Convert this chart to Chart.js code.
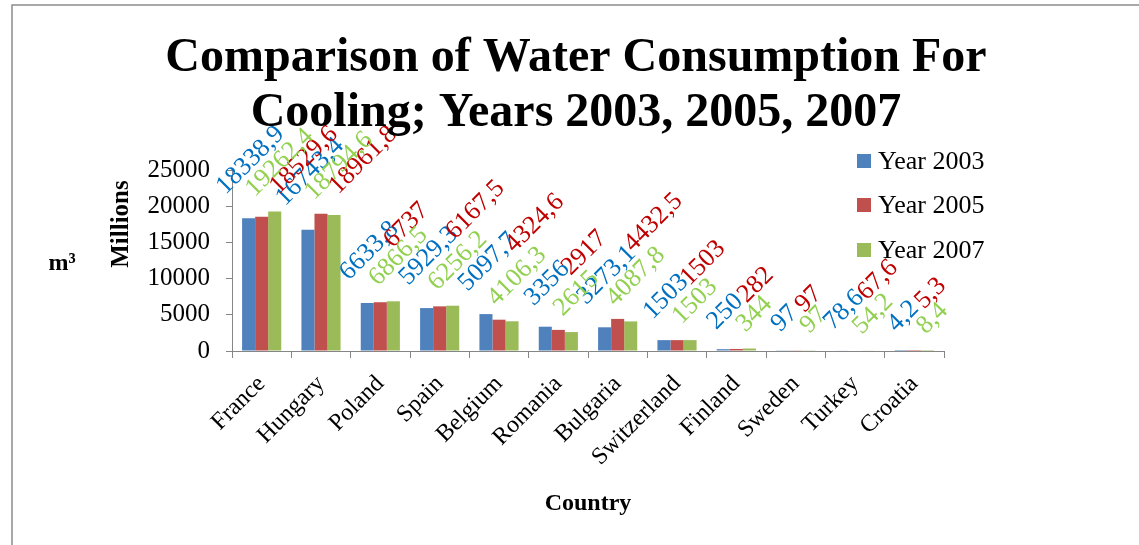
<!DOCTYPE html>
<html><head><meta charset="utf-8">
<script src="https://cdn.jsdelivr.net/npm/chart.js@4"></script>
<style>html,body{margin:0;padding:0;background:#fff;}</style>
</head><body>
<canvas id="c" width="1139" height="545"></canvas>
<script>
const categories = ['France','Hungary','Poland','Spain','Belgium','Romania','Bulgaria','Switzerland','Finland','Sweden','Turkey','Croatia'];
const year2003 = [18338.9,16743.4,6633.8,5929.3,5097.7,3356,3273.1,1503,250,97,78.6,4.2];
const year2005 = [18529.6,18961.8,6737,6167.5,4324.6,2917,4432.5,1503,282,97,67.6,5.3];
const year2007 = [19262.4,18794.6,6866.5,6256.2,4106.3,2615,4087.8,1503,344,97,54.2,8.4];
const yTicks = [0,5000,10000,15000,20000,25000];
const seriesNames = ['Year 2003','Year 2005','Year 2007'];
const barColors = ['#4F81BD','#C0504D','#9BBB59'];
const labelColors = ['#0070C0','#C00000','#92D050'];
const titleLines = ['Comparison of Water Consumption For','Cooling; Years 2003, 2005, 2007'];

const SERIF = '"Liberation Serif", "Times New Roman", serif';
// label placement rule per series (offset grows with text length), mimicking the source layout
const labelRule = [
  { dx: w => 2, dy: w => 20 + 0.45 * w },
  { dx: w => 0.5 * w, dy: w => 25 + 1.0 * w },
  { dx: w => 5, dy: w => 22 + 0.32 * w }
];

const labelPlugin = {
  id: 'valueLabels',
  afterDatasetsDraw(chart) {
    const ctx = chart.ctx;
    ctx.save();
    ctx.font = '26px ' + SERIF;
    chart.data.datasets.forEach((ds, i) => {
      const meta = chart.getDatasetMeta(i);
      ctx.fillStyle = labelColors[i];
      meta.data.forEach((bar, j) => {
        const txt = String(ds.data[j]).replace('.', ',');
        const w = ctx.measureText(txt).width;
        const cx = bar.x + labelRule[i].dx(w);
        const cy = Math.max(bar.y - labelRule[i].dy(w), 160);
        ctx.save();
        ctx.translate(cx, cy);
        ctx.rotate(-Math.PI / 4);
        ctx.textAlign = 'center';
        ctx.textBaseline = 'middle';
        ctx.fillText(txt, 0, 0);
        ctx.restore();
      });
    });
    ctx.restore();
  },
  afterDraw(chart) {
    const ctx = chart.ctx;
    ctx.save();
    ctx.strokeStyle = '#8c8c8c';
    ctx.lineWidth = 1.5;
    ctx.beginPath();
    ctx.moveTo(12, 546); ctx.lineTo(12, 5); ctx.lineTo(1140, 5);
    ctx.stroke();
    ctx.fillStyle = '#000';
    ctx.textAlign = 'center';
    ctx.textBaseline = 'alphabetic';
    ctx.font = 'bold 48px ' + SERIF;
    ctx.fillText(titleLines[0], 576, 71);
    ctx.fillText(titleLines[1], 576, 126);
    ctx.font = '26px ' + SERIF;
    ctx.textAlign = 'left';
    ctx.textBaseline = 'middle';
    const ly = [161, 205, 250];
    seriesNames.forEach((n, i) => {
      ctx.fillStyle = barColors[i];
      ctx.fillRect(857, ly[i] - 7, 14, 14);
      ctx.fillStyle = '#000';
      ctx.fillText(n, 878, ly[i] + 1);
    });
    ctx.font = 'bold 25px ' + SERIF;
    ctx.textAlign = 'center';
    ctx.save();
    ctx.translate(122, 224);
    ctx.rotate(-Math.PI / 2);
    ctx.fillText('Millions', 0, 0);
    ctx.restore();
    ctx.font = 'bold 24px ' + SERIF;
    ctx.textBaseline = 'alphabetic';
    ctx.fillText('m³', 62, 270);
    ctx.fillText('Country', 588, 510);
    ctx.restore();
  }
};

new Chart(document.getElementById('c'), {
  type: 'bar',
  data: {
    labels: categories,
    datasets: [
      { label: seriesNames[0], data: year2003, backgroundColor: barColors[0] },
      { label: seriesNames[1], data: year2005, backgroundColor: barColors[1] },
      { label: seriesNames[2], data: year2007, backgroundColor: barColors[2] }
    ]
  },
  options: {
    responsive: false,
    animation: false,
    devicePixelRatio: 1,
    categoryPercentage: 0.66,
    barPercentage: 1.0,
    layout: { padding: { left: 0, top: 170, right: 195, bottom: 0 } },
    plugins: { legend: { display: false }, title: { display: false }, tooltip: { enabled: false } },
    scales: {
      x: {
        grid: { offset: true, drawOnChartArea: false, drawTicks: true, tickLength: 7, color: '#868686' },
        border: { color: '#868686', width: 1 },
        ticks: { autoSkip: false, minRotation: 45, maxRotation: 45, color: '#000', padding: 12,
                 font: { family: SERIF, size: 24 } },
        afterFit: s => { s.height = 194; }
      },
      y: {
        min: 0, max: 25000,
        grid: { drawOnChartArea: false, drawTicks: true, tickLength: 6, color: '#868686' },
        border: { color: '#868686', width: 1 },
        ticks: { color: '#000', padding: 16, font: { family: SERIF, size: 25 }, callback: v => String(v) },
        afterBuildTicks: s => { s.ticks = yTicks.map(v => ({ value: v })); },
        afterFit: s => { s.width = 232; }
      }
    }
  },
  plugins: [labelPlugin]
});
</script>
</body></html>
